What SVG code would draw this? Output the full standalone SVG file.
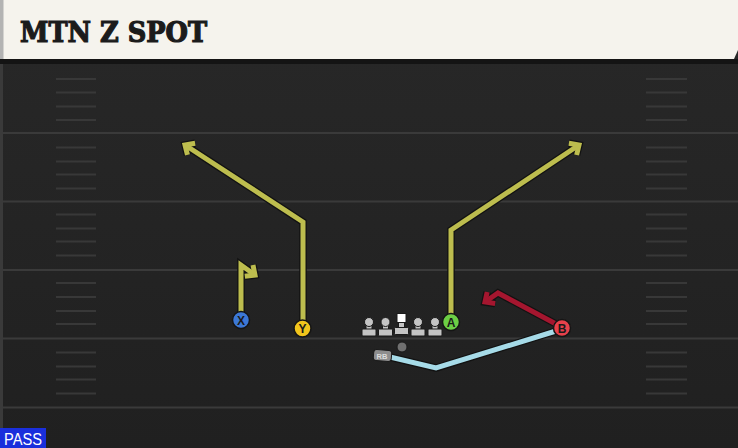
<svg xmlns="http://www.w3.org/2000/svg" width="738" height="448" viewBox="0 0 738 448">
<style>
.yl{stroke:#3a3a3a;stroke-width:2}
.hm{stroke:#383838;stroke-width:2}
.out{fill:none;stroke:#121212;stroke-width:7.5;stroke-linejoin:miter;stroke-linecap:butt}
.yel{fill:none;stroke:#bdbd4e;stroke-width:5;stroke-linejoin:miter}
.red{fill:none;stroke:#a5162f;stroke-width:5;stroke-linejoin:miter}
.blu{fill:none;stroke:#a6dbe8;stroke-width:5;stroke-linejoin:miter}
.pl{fill:#c4c4c4;stroke:#1a1a1a;stroke-width:1}
.lbl{font-family:"Liberation Sans",Arial,sans-serif;font-weight:bold;font-size:12px;fill:#1a1a1a;text-anchor:middle}
</style>
<defs>
<linearGradient id="fld" x1="0" y1="0" x2="0" y2="1">
<stop offset="0" stop-color="#282828"/>
<stop offset="1" stop-color="#202020"/>
</linearGradient>
<marker id="mo" markerUnits="userSpaceOnUse" orient="auto" refX="0" refY="0" markerWidth="30" markerHeight="30" viewBox="-15 -15 30 30" overflow="visible">
<path d="M-7.5,-7 L0,0 L-7.5,7" fill="none" stroke="#121212" stroke-width="7.5"/>
</marker>
<marker id="my" markerUnits="userSpaceOnUse" orient="auto" refX="0" refY="0" markerWidth="30" markerHeight="30" viewBox="-15 -15 30 30" overflow="visible">
<path d="M-7.5,-7 L0,0 L-7.5,7" fill="none" stroke="#bdbd4e" stroke-width="5"/>
</marker>
<marker id="mr" markerUnits="userSpaceOnUse" orient="auto" refX="0" refY="0" markerWidth="30" markerHeight="30" viewBox="-15 -15 30 30" overflow="visible">
<path d="M-7.5,-7 L0,0 L-7.5,7" fill="none" stroke="#a5162f" stroke-width="5"/>
</marker>
</defs>

<!-- field -->
<rect x="0" y="0" width="738" height="448" fill="url(#fld)"/>
<rect x="0" y="59" width="3" height="389" fill="#3a3a3a"/>
<g id="yardlines">
<line class="yl" x1="0" y1="133" x2="738" y2="133"/>
<line class="yl" x1="0" y1="201.5" x2="738" y2="201.5"/>
<line class="yl" x1="0" y1="270" x2="738" y2="270"/>
<line class="yl" x1="0" y1="338.5" x2="738" y2="338.5"/>
<line class="yl" x1="0" y1="407.5" x2="738" y2="407.5"/>
</g>
<g id="hashes">
<path class="hm" d="M56 79H96M56 92.5H96M56 106.5H96M56 120H96M56 147.5H96M56 161.5H96M56 174.5H96M56 188.5H96M56 214.5H96M56 228.5H96M56 241.5H96M56 255.5H96M56 283H96M56 297H96M56 311H96M56 324H96M56 352.5H96M56 366.5H96M56 379.5H96M56 393.5H96"/>
<path class="hm" d="M646 79H687M646 92.5H687M646 106.5H687M646 120H687M646 147.5H687M646 161.5H687M646 174.5H687M646 188.5H687M646 214.5H687M646 228.5H687M646 241.5H687M646 255.5H687M646 283H687M646 297H687M646 311H687M646 324H687M646 352.5H687M646 366.5H687M646 379.5H687M646 393.5H687"/>
</g>

<!-- header -->
<g id="header">
<rect x="0" y="59" width="738" height="5" fill="#141414"/>
<polygon points="0,0 738,0 738,50 734,59 0,59" fill="#f5f3ed"/>
<rect x="0" y="0" width="3.5" height="59" fill="#b3b3b3"/>
<text x="20" y="42" font-family="'DejaVu Serif','Liberation Serif',serif" font-weight="bold" font-size="27" textLength="187" lengthAdjust="spacingAndGlyphs" fill="#1b1b1b" stroke="#1b1b1b" stroke-width="1.2">MTN Z SPOT</text>
</g>

<!-- connectors -->
<g id="routes">
<path class="out" d="M390 357 L436 368 L556 331"/>
<path class="blu" d="M390 357 L436 368 L556 331"/>
<path class="out" d="M241 316 L241 265 L255 275" marker-end="url(#mo)"/>
<path class="yel" d="M241 316 L241 265 L255 275" marker-end="url(#my)"/>
<path class="out" d="M303 322 L303 222 L185 145" marker-end="url(#mo)"/>
<path class="yel" d="M303 322 L303 222 L185 145" marker-end="url(#my)"/>
<path class="out" d="M451 316 L451 230 L579 145" marker-end="url(#mo)"/>
<path class="yel" d="M451 316 L451 230 L579 145" marker-end="url(#my)"/>
<path class="out" d="M556 324 L498 293 L485 302" marker-end="url(#mo)"/>
<path class="red" d="M556 324 L498 293 L485 302" marker-end="url(#mr)"/>
</g>

<!-- offensive line -->
<g id="lt"><rect class="pl" x="366" y="324" width="6" height="6"/><circle class="pl" cx="369" cy="322" r="4.5"/><rect class="pl" x="362" y="329" width="14" height="7" rx="1"/></g>
<g id="lg"><rect class="pl" x="382.5" y="324" width="6" height="6"/><circle class="pl" cx="385.5" cy="322" r="4.5"/><rect class="pl" x="378.5" y="329" width="14" height="7" rx="1"/></g>
<g id="c"><rect class="pl" x="398.5" y="321" width="6" height="7"/><rect x="397" y="313.5" width="9" height="9" fill="#ffffff" stroke="#1a1a1a" stroke-width="1"/><rect class="pl" x="394.5" y="327.5" width="14" height="7" rx="1"/></g>
<g id="rg"><rect class="pl" x="415" y="324" width="6" height="6"/><circle class="pl" cx="418" cy="322" r="4.5"/><rect class="pl" x="411" y="329" width="14" height="7" rx="1"/></g>
<g id="rt"><rect class="pl" x="432" y="324" width="6" height="6"/><circle class="pl" cx="435" cy="322" r="4.5"/><rect class="pl" x="428" y="329" width="14" height="7" rx="1"/></g>
<g id="qb"><circle cx="402" cy="347" r="5" fill="#707070" stroke="#1a1a1a" stroke-width="1"/></g>
<g id="rb"><rect x="373.5" y="350" width="18" height="11" rx="3" fill="#8e8e8e" stroke="#1a1a1a" stroke-width="1" transform="rotate(5 382 355.5)"/><text x="382" y="358.5" font-family="'Liberation Sans',Arial,sans-serif" font-weight="bold" font-size="7.5" fill="#dcdcdc" text-anchor="middle">RB</text></g>

<!-- skill players -->
<g id="x"><circle cx="241" cy="320" r="8.5" fill="#3c78d6" stroke="#151515" stroke-width="1.5"/><text class="lbl" x="241" y="324.5">X</text></g>
<g id="y"><circle cx="302.5" cy="328.5" r="8.5" fill="#f1c51c" stroke="#151515" stroke-width="1.5"/><text class="lbl" x="302.5" y="333">Y</text></g>
<g id="a"><circle cx="451" cy="322" r="8.5" fill="#6ccf45" stroke="#151515" stroke-width="1.5"/><text class="lbl" x="451" y="326.5">A</text></g>
<g id="b"><circle cx="562" cy="328" r="8.5" fill="#e8414b" stroke="#151515" stroke-width="1.5"/><text class="lbl" x="562" y="332.5">B</text></g>

<!-- play type -->
<g id="pass"><rect x="0" y="428" width="46" height="20" fill="#1a2fdc"/><text x="23" y="444.5" font-family="'Liberation Sans',Arial,sans-serif" font-size="16" fill="#ffffff" text-anchor="middle" textLength="38" lengthAdjust="spacingAndGlyphs">PASS</text></g>
</svg>
